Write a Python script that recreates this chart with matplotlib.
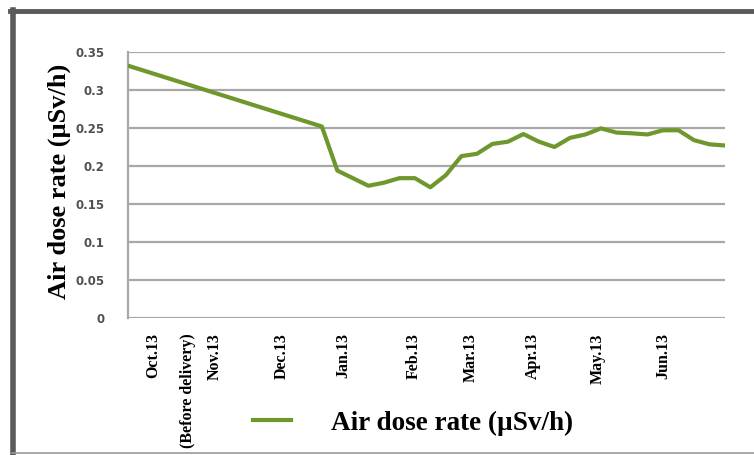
import matplotlib
matplotlib.use("Agg")
import matplotlib.pyplot as plt
from matplotlib.lines import Line2D

# x in weeks from the first reading, y in µSv/h
week = [0, 12.5,
        13.5, 14.5, 15.5, 16.5, 17.5, 18.5, 19.5, 20.5, 21.5, 22.5,
        23.5, 24.5, 25.5, 26.5, 27.5, 28.5, 29.5, 30.5, 31.5, 32.5,
        33.5, 34.5, 35.5, 36.5, 37.5, 38.5]
dose = [0.332, 0.252,
        0.194, 0.184, 0.174, 0.178, 0.184, 0.184, 0.172, 0.188, 0.213, 0.216,
        0.229, 0.232, 0.242, 0.232, 0.225, 0.237, 0.2415, 0.2495, 0.244, 0.243,
        0.2415, 0.247, 0.247, 0.234, 0.2285, 0.227]

tick_pos = [1.6, 3.9, 5.6, 9.9, 13.9, 18.4, 22.1, 26.1, 30.3, 34.5]
tick_lab = ["Oct.13", "(Before delivery)", "Nov.13", "Dec.13", "Jan.13",
            "Feb.13", "Mar.13", "Apr.13", "May.13", "Jun.13"]
y_ticks = [0, 0.05, 0.1, 0.15, 0.2, 0.25, 0.3, 0.35]
y_lab = ["0", "0.05", "0.1", "0.15", "0.2", "0.25", "0.3", "0.35"]

series_name = "Air dose rate (\u00b5Sv/h)"
green = "#6e972c"
serif = ["Liberation Serif", "DejaVu Serif"]

W, H = 754, 455
fig = plt.figure(figsize=(W / 100, H / 100), dpi=100)
ax = fig.add_axes([128 / W, 1 - 318 / H, (725 - 128) / W, (318 - 52) / H])

ax.plot(week, dose, color=green, lw=3, solid_joinstyle="round", label=series_name, zorder=3)

ax.set_xlim(0, 38.5)
ax.set_ylim(0, 0.35)
ax.set_yticks(y_ticks)
ax.set_yticklabels(y_lab, fontsize=8.5, fontweight="bold", color="#505050")
ax.set_xticks(tick_pos)
ax.set_xticklabels(tick_lab, rotation=90, fontsize=11.5, fontweight="bold",
                   family=serif)
ax.tick_params(axis="both", length=0)
ax.tick_params(axis="y", pad=17)
ax.tick_params(axis="x", pad=11)
ax.grid(axis="y", color="#a8a8a8", lw=1.6)
ax.set_axisbelow(True)
for s in ["top", "right", "bottom"]:
    ax.spines[s].set_visible(False)
ax.spines["left"].set_color("#a8a8a8")
ax.spines["left"].set_linewidth(1.6)

fig.text(59 / W, 1 - 181 / H, series_name, rotation=90, ha="center", va="center",
         fontsize=19, fontweight="bold", family=serif)

leg = fig.legend(loc="center", bbox_to_anchor=(413 / W, 1 - 423 / H), frameon=False,
                 handlelength=1.4, handletextpad=1.45,
                 prop={"family": serif, "weight": "bold", "size": 19.5})
leg.get_lines()[0].set_linewidth(3)

# outer frame of the picture
fig.add_artist(Line2D([12.5 / W, 12.5 / W], [0, 1 - 10 / H], color="#5a5a5a", lw=4))
fig.add_artist(Line2D([10 / W, 1], [1 - 10.5 / H, 1 - 10.5 / H], color="#5a5a5a", lw=3.5))
fig.add_artist(Line2D([12 / W, 1], [1 - 452.5 / H, 1 - 452.5 / H], color="#9a9a9a", lw=1.2))

fig.savefig("out.png", dpi=100)
